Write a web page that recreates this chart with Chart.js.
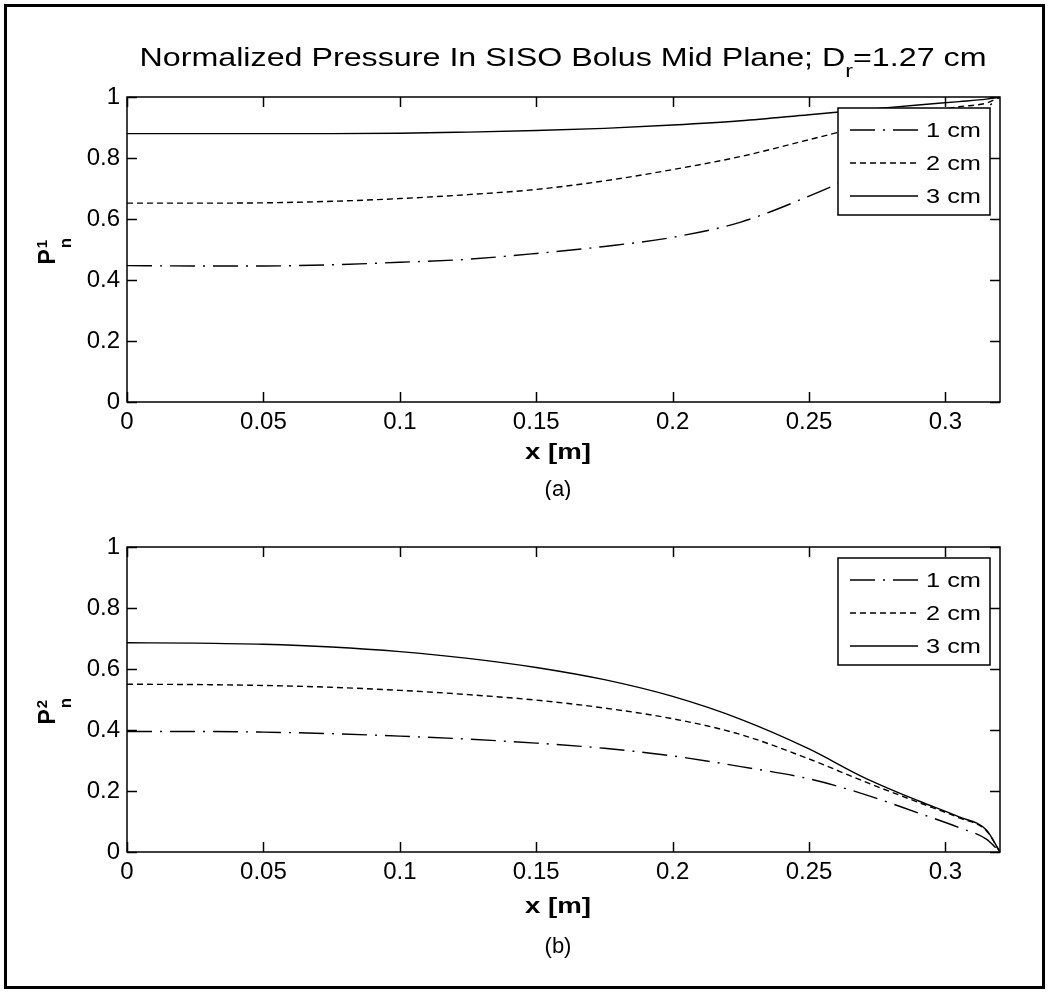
<!DOCTYPE html>
<html>
<head>
<meta charset="utf-8">
<script src="https://cdn.jsdelivr.net/npm/chart.js@4.4.1/dist/chart.umd.min.js"></script>
<style>
    html, body { margin: 0; padding: 0; background: #fff; }
    #page { position: relative; width: 1050px; height: 993px; overflow: hidden; }
    .panel { position: absolute; left: 0; width: 1050px; }
    #frame { position: absolute; left: 4px; top: 4px; width: 1041px; height: 985px;
             border: 3px solid #000; box-sizing: border-box; pointer-events: none; }
</style>
</head>
<body>
<div id="page">
    <div class="panel" style="top:0;height:500px"><canvas id="chartA"></canvas></div>
    <div class="panel" style="top:500px;height:493px"><canvas id="chartB"></canvas></div>
    <div id="frame"></div>
</div>
<script>
// data
const xPos = [0, 0.025, 0.05, 0.075, 0.1, 0.125, 0.15, 0.175, 0.2, 0.225, 0.25, 0.27, 0.29, 0.305, 0.315, 0.32];
const seriesNames = ["1 cm", "2 cm", "3 cm"];

// (a) P_n^1
const a1cm = [0.447, 0.446, 0.446, 0.45, 0.458, 0.468, 0.487, 0.51, 0.54, 0.59, 0.675, 0.755, 0.85, 0.92, 0.965, 1.0];
const a2cm = [0.652, 0.652, 0.653, 0.658, 0.667, 0.68, 0.697, 0.725, 0.762, 0.805, 0.86, 0.905, 0.945, 0.968, 0.98, 1.0];
const a3cm = [0.88, 0.88, 0.88, 0.88, 0.881, 0.885, 0.89, 0.897, 0.908, 0.922, 0.942, 0.958, 0.974, 0.985, 0.993, 1.0];

// (b) P_n^2
const b1cm = [0.395, 0.395, 0.393, 0.388, 0.38, 0.37, 0.357, 0.34, 0.315, 0.28, 0.24, 0.19, 0.128, 0.08, 0.042, 0.0];
const b2cm = [0.55, 0.549, 0.546, 0.54, 0.53, 0.516, 0.498, 0.472, 0.437, 0.385, 0.305, 0.232, 0.163, 0.112, 0.07, 0.0];
const b3cm = [0.686, 0.685, 0.681, 0.672, 0.657, 0.635, 0.605, 0.565, 0.51, 0.435, 0.338, 0.245, 0.168, 0.115, 0.072, 0.0];

const xTicks = [0, 0.05, 0.1, 0.15, 0.2, 0.25, 0.3];
const yTicks = [0, 0.2, 0.4, 0.6, 0.8, 1];

const FONT = '"Liberation Sans", Arial, Helvetica, sans-serif';
const dashes = [[25, 8, 2, 8], [6, 4], []];

// text squeezed/stretched to a given width, like the scanned figure
function drawStretched(ctx, text, x, y, width) {
    const w = ctx.measureText(text).width;
    ctx.save();
    ctx.translate(x, y);
    ctx.scale(width / w, 1);
    ctx.fillText(text, 0, 0);
    ctx.restore();
}

const matlabLook = {
    id: "matlabLook",
    afterDraw(chart, args, o) {
        const { ctx, chartArea: a, scales: { x, y } } = chart;
        ctx.save();
        ctx.strokeStyle = "#000";
        ctx.fillStyle = "#000";

        // box + inward ticks
        ctx.lineWidth = 1.5;
        ctx.strokeRect(a.left, a.top, a.right - a.left, a.bottom - a.top);
        ctx.beginPath();
        x.ticks.forEach((t) => {
            const px = Math.round(x.getPixelForValue(t.value)) + 0.5;
            ctx.moveTo(px, a.bottom); ctx.lineTo(px, a.bottom - 10);
            ctx.moveTo(px, a.top); ctx.lineTo(px, a.top + 10);
        });
        y.ticks.forEach((t) => {
            const py = Math.round(y.getPixelForValue(t.value)) + 0.5;
            ctx.moveTo(a.left, py); ctx.lineTo(a.left + 10, py);
            ctx.moveTo(a.right, py); ctx.lineTo(a.right - 10, py);
        });
        ctx.stroke();

        // legend
        const lx = 838, lw = 152, lt = a.top + 11, lh = 107;
        ctx.fillStyle = "#fff";
        ctx.fillRect(lx, lt, lw, lh);
        ctx.strokeRect(lx, lt, lw, lh);
        ctx.fillStyle = "#000";
        ctx.font = "21px " + FONT;
        ctx.textBaseline = "middle";
        chart.data.datasets.forEach((ds, i) => {
            const ly = lt + 22 + i * 33;
            ctx.beginPath();
            ctx.lineWidth = 1.4;
            ctx.setLineDash(ds.borderDash);
            ctx.moveTo(850, ly); ctx.lineTo(918, ly);
            ctx.stroke();
            ctx.setLineDash([]);
            drawStretched(ctx, ds.label, 926, ly + 1, 55);
        });

        // x label and panel tag
        const cx = 558;
        ctx.font = "bold 22px " + FONT;
        drawStretched(ctx, "x [m]", cx - 33, a.bottom + o.xLabelDy, 66);
        ctx.font = "22px " + FONT;
        ctx.textAlign = "center";
        ctx.fillText(o.panel, cx, a.bottom + o.panelDy);
        ctx.textAlign = "left";

        // rotated y label P_n^k
        ctx.save();
        ctx.translate(55, (a.top + a.bottom) / 2 + o.ylabelShift);
        ctx.rotate(-Math.PI / 2);
        ctx.textBaseline = "alphabetic";
        ctx.font = "bold 23px " + FONT;
        ctx.fillText("P", 0, 0);
        const pw = ctx.measureText("P").width + 1;
        ctx.font = "bold 17px " + FONT;
        ctx.fillText("n", pw, 16);
        ctx.font = "bold 15px " + FONT;
        ctx.fillText(o.ylabelSup, pw, -8);
        ctx.restore();

        // figure title
        if (o.title) {
            const parts = [
                { t: "Normalized Pressure In SISO Bolus Mid Plane; D", size: 25, dy: 0 },
                { t: "r", size: 18, dy: 11 },
                { t: "=1.27 cm", size: 25, dy: 0 },
            ];
            let natural = 0;
            parts.forEach((p) => {
                ctx.font = p.size + "px " + FONT;
                natural += ctx.measureText(p.t).width;
            });
            const target = 847;
            const sx = target / natural;
            ctx.textBaseline = "alphabetic";
            ctx.translate(563 - target / 2, 66);
            ctx.scale(sx, 1);
            let tx = 0;
            parts.forEach((p) => {
                ctx.font = p.size + "px " + FONT;
                ctx.fillText(p.t, tx, p.dy);
                tx += ctx.measureText(p.t).width;
            });
        }
        ctx.restore();
    },
};

function makeDatasets(series) {
    return series.map((vals, i) => ({
        label: seriesNames[i],
        data: vals.map((v, j) => ({ x: xPos[j], y: v })),
        borderColor: "#000",
        borderWidth: 1.4,
        borderDash: dashes[i],
        pointRadius: 0,
        fill: false,
        cubicInterpolationMode: "monotone",
    }));
}

function makeChart(id, series, cfg) {
    return new Chart(document.getElementById(id), {
        type: "line",
        data: { datasets: makeDatasets(series) },
        options: {
            responsive: true,
            maintainAspectRatio: false,
            animation: false,
            layout: { padding: { top: cfg.padTop, right: 50, left: 0, bottom: 0 } },
            scales: {
                x: {
                    type: "linear",
                    min: 0,
                    max: 0.32,
                    afterBuildTicks: (s) => { s.ticks = xTicks.map((v) => ({ value: v })); },
                    afterFit: (s) => { s.height = cfg.xHeight; },
                    grid: { display: false, drawTicks: false },
                    border: { display: false },
                    ticks: {
                        padding: 6,
                        color: "#000",
                        maxRotation: 0,
                        autoSkip: false,
                        font: { family: FONT, size: 24 },
                        callback: (v) => String(+Number(v).toFixed(2)),
                    },
                },
                y: {
                    min: 0,
                    max: 1,
                    afterBuildTicks: (s) => { s.ticks = yTicks.map((v) => ({ value: v })); },
                    afterFit: (s) => { s.width = 127; },
                    grid: { display: false, drawTicks: false },
                    border: { display: false },
                    ticks: {
                        padding: 7,
                        color: "#000",
                        autoSkip: false,
                        font: { family: FONT, size: 24 },
                        callback: (v) => String(+Number(v).toFixed(2)),
                    },
                },
            },
            plugins: {
                legend: { display: false },
                tooltip: { enabled: false },
                matlabLook: cfg.look,
            },
        },
        plugins: [matlabLook],
    });
}

makeChart("chartA", [a1cm, a2cm, a3cm], {
    padTop: 97,
    xHeight: 98,
    look: { title: true, panel: "(a)", ylabelSup: "1", xLabelDy: 51, panelDy: 88, ylabelShift: 15 },
});

makeChart("chartB", [b1cm, b2cm, b3cm], {
    padTop: 47,
    xHeight: 141,
    look: { title: false, panel: "(b)", ylabelSup: "2", xLabelDy: 55, panelDy: 95, ylabelShift: 25 },
});
</script>
</body>
</html>
